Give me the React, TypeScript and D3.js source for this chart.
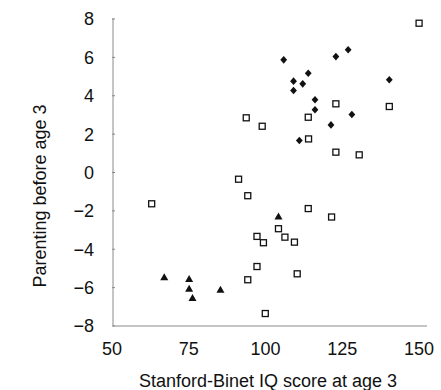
import * as d3 from 'd3';

// ── Layout ────────────────────────────────────────────────────────────────────
const VW = 441;
const VH = 390;
const X0 = 113;
const X1 = 420;
const Y_TOP = 19;
const Y_BOT = 326;

const INK  = '#111';
const AXIS = '#8a8a8a';
const FONT = '"Liberation Sans", Arial, Helvetica, sans-serif';

// ── Data (IQ score, parenting score) ─────────────────────────────────────────
const DIAMOND_IQ  = [126.6, 122.6, 105.6, 113.6, 108.8, 111.8, 108.8, 140, 115.8, 115.8, 127.8, 121, 110.7];
const DIAMOND_PAR = [6.4, 6.04, 5.87, 5.17, 4.76, 4.62, 4.27, 4.83, 3.79, 3.27, 3.02, 2.48, 1.67];

const SQUARE_IQ  = [149.7, 122.6, 140, 93.4, 98.6, 113.6, 113.7, 122.6, 130.2, 90.9, 93.9, 113.6, 121.2, 103.9, 106, 109.1, 96.9, 99, 96.9, 110, 93.9, 99.6, 62.6];
const SQUARE_PAR = [7.78, 3.58, 3.44, 2.85, 2.41, 2.88, 1.75, 1.06, 0.92, -0.35, -1.21, -1.88, -2.32, -2.93, -3.37, -3.63, -3.33, -3.66, -4.9, -5.28, -5.59, -7.35, -1.63];

const TRI_IQ  = [103.9, 85, 66.7, 74.8, 74.8, 75.9];
const TRI_PAR = [-2.33, -6.15, -5.49, -5.59, -6.09, -6.58];

const X_TICKS = [50, 75, 100, 125, 150];
const Y_TICKS = [8, 6, 4, 2, 0, -2, -4, -6, -8];

const X_LABEL = 'Stanford-Binet IQ score at age 3';
const Y_LABEL = 'Parenting before age 3';

const x = d3.scaleLinear().domain([50, 150]).range([X0, X1]);
const y = d3.scaleLinear().domain([-8, 8]).range([Y_BOT, Y_TOP]);

// rounder diamond than d3's default symbolDiamond
const diamond = 'M0,-3.8L3.4,0L0,3.8L-3.4,0Z';
const triangle = d3.symbol(d3.symbolTriangle, 28)() ?? '';

const fmt = (v: number) => (v < 0 ? `\u2212${Math.abs(v)}` : `${v}`);

export default function App() {
  return (
    <svg
      width={VW}
      height={VH}
      viewBox={`0 0 ${VW} ${VH}`}
      style={{ position: 'absolute', left: 0, top: 0, background: '#fff' }}
      fontFamily={FONT}
    >
      {/* Axes */}
      <line x1={X0} x2={X0} y1={Y_TOP - 1} y2={Y_BOT} stroke={AXIS} strokeWidth={1} />
      <line x1={X0} x2={X1 + 7} y1={Y_BOT} y2={Y_BOT} stroke={AXIS} strokeWidth={1} />

      {Y_TICKS.map(v => (
        <g key={v}>
          <line x1={X0 - 1} x2={X0 + 2} y1={y(v)} y2={y(v)} stroke={AXIS} strokeWidth={1} />
          <text
            x={94} y={y(v)} dy="0.36em"
            textAnchor="end" fontSize={18} fill={INK}
          >
            {fmt(v)}
          </text>
        </g>
      ))}

      {X_TICKS.map(v => (
        <text
          key={v}
          x={x(v) - 1} y={355}
          textAnchor="middle" fontSize={18} fill={INK}
        >
          {v}
        </text>
      ))}

      {/* Axis titles */}
      <text x={268} y={387} textAnchor="middle" fontSize={18} fill={INK}>
        {X_LABEL}
      </text>
      <text
        transform={`translate(46, 196) rotate(-90)`}
        textAnchor="middle" fontSize={18} fill={INK}
      >
        {Y_LABEL}
      </text>

      {/* Points */}
      {SQUARE_IQ.map((iq, i) => (
        <rect
          key={`s${i}`}
          x={x(iq) - 3} y={y(SQUARE_PAR[i]) - 3}
          width={6} height={6}
          fill="#fff" stroke={INK} strokeWidth={1.3}
        />
      ))}
      {DIAMOND_IQ.map((iq, i) => (
        <path
          key={`d${i}`}
          d={diamond}
          transform={`translate(${x(iq)},${y(DIAMOND_PAR[i])})`}
          fill={INK}
        />
      ))}
      {TRI_IQ.map((iq, i) => (
        <path
          key={`t${i}`}
          d={triangle}
          transform={`translate(${x(iq)},${y(TRI_PAR[i])})`}
          fill={INK}
        />
      ))}
    </svg>
  );
}
